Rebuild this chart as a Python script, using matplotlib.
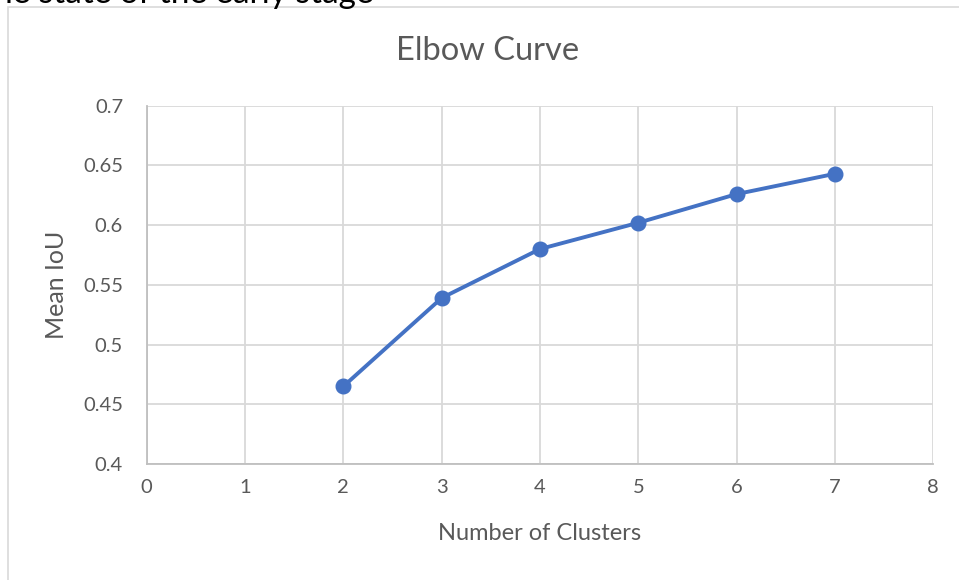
import numpy as np
import matplotlib.pyplot as plt
from matplotlib.patches import Rectangle


clusters = [2, 3, 4, 5, 6, 7]
mean_iou = [0.465, 0.539, 0.580, 0.602, 0.626, 0.643]

x_ticks = np.arange(0, 9, 1)
y_ticks = [0.4, 0.45, 0.5, 0.55, 0.6, 0.65, 0.7]
y_labels = ['0.4', '0.45', '0.5', '0.55', '0.6', '0.65', '0.7']

text_col = '#595959'
grid_col = '#d9d9d9'
line_col = '#4472c4'

plt.rcParams['font.family'] = ['Lato', 'DejaVu Sans']

W, H = 959, 580
fig = plt.figure(figsize=(W/100, H/100), dpi=100)

# chart frame, runs off the right and bottom edges
fig.patches.append(Rectangle((8/W, -0.1), 1.2, 1 - 7/H + 0.1,
                             transform=fig.transFigure, fill=False,
                             edgecolor='#d9d9d9', linewidth=1.2))

# tail of the sentence above the chart
fig.text(-0.006, 1 - 3/H, 'ne state of the early stage', fontsize=24,
         color='#000000', ha='left', va='baseline')

x0, x1, y0, y1 = 146.7, 933.3, 105.7, 464.0
ax = fig.add_axes([x0/W, 1 - y1/H, (x1 - x0)/W, (y1 - y0)/H])

ax.plot(clusters, mean_iou, color=line_col, linewidth=2.8, marker='o',
        markersize=10.5, zorder=3)

ax.set_xlim(0, 8)
ax.set_ylim(0.4, 0.7)
ax.set_xticks(x_ticks)
ax.set_yticks(y_ticks, labels=y_labels)
ax.grid(True, color=grid_col, linewidth=1.3)
ax.set_axisbelow(True)

for s in ['top', 'right']:
    ax.spines[s].set_visible(False)
for s in ['left', 'bottom']:
    ax.spines[s].set_color('#bfbfbf')
    ax.spines[s].set_linewidth(1.3)

ax.tick_params(axis='both', length=0, colors=text_col, labelsize=14.5)
ax.tick_params(axis='y', pad=17)
ax.tick_params(axis='x', pad=11)

# title is centred on the chart frame, not the plot area
fig.text((8 + 968)/2/W, 1 - 51/H, 'Elbow Curve', fontsize=23.5,
         color=text_col, ha='center', va='center')

ax.set_xlabel('Number of Clusters', fontsize=17, color=text_col)
ax.set_ylabel('Mean IoU', fontsize=18, color=text_col)
ax.xaxis.label.set_va('center')
ax.yaxis.label.set_va('center')
ax.xaxis.set_label_coords(0.5, (y1 - 534)/(y1 - y0))
ax.yaxis.set_label_coords((57 - x0)/(x1 - x0), 0.5)

fig.savefig('out.png', dpi=100)
